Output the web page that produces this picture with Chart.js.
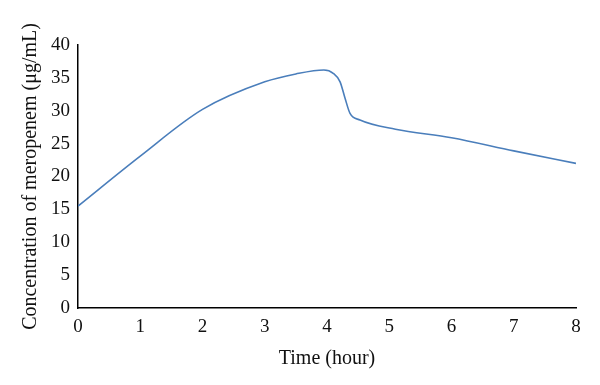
<!DOCTYPE html>
<html>
<head>
  <title>Meropenem concentration</title>
  <script src="https://cdn.jsdelivr.net/npm/chart.js"></script>
  <style>
    body { margin: 0; background: #fff; }
    #wrap { width: 600px; height: 385px; }
  </style>
</head>
<body>
  <div id="wrap"><canvas id="concChart"></canvas></div>
  <script>
    const times = [0, 1, 2, 3, 3.5, 3.95, 4.1, 4.21, 4.29, 4.37, 4.53, 5.1, 6, 7, 8];
    const conc = [15.5, 23.1, 30.2, 34.4, 35.6, 36.2, 35.7, 34.4, 31.9, 29.6, 28.6, 27.2, 25.9, 23.9, 22.0];
    const xTicks = [0, 1, 2, 3, 4, 5, 6, 7, 8];
    const yTicks = [0, 5, 10, 15, 20, 25, 30, 35, 40];

    const serif = "'Liberation Serif', 'DejaVu Serif', serif";

    const ctx = document.getElementById('concChart').getContext('2d');
    const concChart = new Chart(ctx, {
      type: 'line',
      data: {
        datasets: [{
          label: 'Meropenem',
          data: times.map((t, i) => ({ x: t, y: conc[i] })),
          borderColor: '#4a7ebb',
          borderWidth: 1.6,
          pointRadius: 0,
          fill: false,
          cubicInterpolationMode: 'monotone'
        }]
      },
      options: {
        responsive: true,
        maintainAspectRatio: false,
        animation: false,
        layout: { padding: { top: 45, right: 24, left: 0, bottom: 0 } },
        plugins: { legend: { display: false }, tooltip: { enabled: false } },
        scales: {
          x: {
            type: 'linear',
            min: 0, max: 8,
            afterBuildTicks: s => { s.ticks = xTicks.map(v => ({ value: v })); },
            afterFit: s => { s.height = 77; },
            grid: { display: false },
            border: { display: true, color: '#000', width: 1.5 },
            ticks: { color: '#111', font: { family: serif, size: 19 }, padding: 0 },
            title: { display: true, text: 'Time (hour)', color: '#111', font: { family: serif, size: 20 }, padding: { top: 4, bottom: 14 } }
          },
          y: {
            min: 0, max: 40,
            afterBuildTicks: s => { s.ticks = yTicks.map(v => ({ value: v })); },
            afterFit: s => { s.width = 78; },
            grid: { display: false },
            border: { display: true, color: '#000', width: 1.5 },
            ticks: { color: '#111', font: { family: serif, size: 19 }, padding: 0 },
            title: { display: true, text: 'Concentration of meropenem (μg/mL)', color: '#111', font: { family: serif, size: 20 }, padding: { top: 19 } }
          }
        }
      }
    });
  </script>
</body>
</html>
